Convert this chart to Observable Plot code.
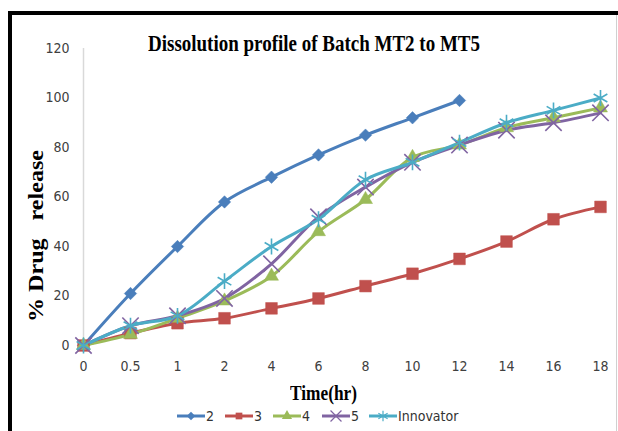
<!DOCTYPE html>
<html>
<head>
<meta charset="utf-8">
<script src="https://cdn.jsdelivr.net/npm/d3@7"></script>
<script src="https://cdn.jsdelivr.net/npm/@observablehq/plot@0.6"></script>
<style>
  html, body { margin: 0; padding: 0; background: #fff; }
  #wrap { position: relative; width: 618px; height: 431px; overflow: hidden; background: #fff; }
  #frame { position: absolute; left: 8px; top: 11px; width: 640px; height: 460px; border-left: 4px solid #000; border-top: 4px solid #000; box-sizing: border-box; }
  #rline { position: absolute; left: 616px; top: 15px; width: 1px; height: 416px; background: #d0d0d0; }
  .fit { position: absolute; white-space: pre; transform-origin: 0 0; font-family: "Liberation Serif", "Times New Roman", serif; font-weight: bold; color: #000; line-height: 1; }
  #legend { position: absolute; top: 407px; left: 0; height: 18px; font-family: "DejaVu Sans Condensed", "Liberation Sans", sans-serif; font-size: 14px; color: #333; }
  #legend svg { position: absolute; top: 0; left: 0; overflow: visible; }
  #chart { position: absolute; left: 0; top: 0; }
</style>
</head>
<body>
<div id="wrap">
  <div id="chart"></div>
  <div id="frame"></div>
  <div id="rline"></div>
</div>
<script>
const times = ["0", "0.5", "1", "2", "4", "6", "8", "10", "12", "14", "16", "18"];
const seriesNames = ["2", "3", "4", "5", "Innovator"];
const s2 = [0, 21, 40, 58, 68, 77, 85, 92, 99];
const s3 = [0, 5, 9, 11, 15, 19, 24, 29, 35, 42, 51, 56];
const s4 = [0, 4.5, 11, 18, 28, 46, 59, 76, 81, 88, 92, 96];
const s5 = [0, 8, 12, 19, 33, 52, 64, 74, 81, 87, 90, 94];
const sInnovator = [0, 8, 12, 26, 40, 51, 67, 74, 82, 90, 95, 100];
const yTicks = [0, 20, 40, 60, 80, 100, 120];
const colors = ["#4A7EBB", "#C0504D", "#9BBB59", "#8064A2", "#4BACC6"];
const symbols = ["diamond2", "square", "triangle", "times", "asterisk"];

const allSeries = [s2, s3, s4, s5, sInnovator];
const data = [];
allSeries.forEach((vals, i) => vals.forEach((v, j) => data.push({series: seriesNames[i], time: times[j], value: v})));

const tickFont = "DejaVu Sans Condensed, Liberation Sans, sans-serif";
const sizes = [5.6, 6.6, 5.2, 7.5, 7.5];

const dotMarks = seriesNames.map((name, i) => {
  const rows = data.filter(d => d.series === name);
  return i < 3
    ? Plot.dot(rows, {x: "time", y: "value", symbol: "series", fill: "series", stroke: "series", strokeWidth: 0.5, r: sizes[i]})
    : Plot.dot(rows, {x: "time", y: "value", symbol: "series", stroke: "series", fill: "none", strokeWidth: 1.6, r: sizes[i]});
});

const plot = Plot.plot({
  width: 618,
  height: 431,
  marginLeft: 80,
  marginRight: 15,
  marginTop: 48,
  marginBottom: 86,
  style: {background: "transparent", fontFamily: tickFont, fontSize: "14px", color: "#404040"},
  x: {type: "point", domain: times, padding: 0, label: null},
  y: {domain: [0, 120], label: null},
  color: {domain: seriesNames, range: colors},
  symbol: {domain: seriesNames, range: symbols},
  marks: [
    Plot.ruleX([times[0]], {y1: 0, y2: 120, stroke: "#d9d9d9", strokeWidth: 1.5}),
    Plot.ruleY([0], {x1: times[0], x2: times[times.length - 1], stroke: "#c8c8c8", strokeWidth: 2}),
    Plot.axisY({ticks: yTicks, tickSize: 0, tickPadding: 11, fontSize: 14, fill: "#404040"}),
    Plot.axisX({tickSize: 0, tickPadding: 16, fontSize: 14, fill: "#404040"}),
    Plot.line(data, {x: "time", y: "value", z: "series", stroke: "series", strokeWidth: 3, curve: "catmull-rom"}),
    ...dotMarks
  ]
});
document.getElementById("chart").appendChild(plot);

const wrap = document.getElementById("wrap");
function fitText(text, size, x0, x1, yTop, rotate) {
  const el = document.createElement("div");
  el.className = "fit";
  el.style.fontSize = size + "px";
  el.textContent = text;
  wrap.appendChild(el);
  const w = el.getBoundingClientRect().width;
  const target = Math.abs(x1 - x0);
  const s = target / w;
  if (!rotate) {
    el.style.left = x0 + "px";
    el.style.top = yTop + "px";
    el.style.transform = `scaleX(${s})`;
  } else {
    el.style.left = yTop + "px";
    el.style.top = x1 + "px";
    el.style.transform = `rotate(-90deg) scaleX(${s}) scaleY(0.85)`;
  }
}
fitText("Dissolution profile of Batch MT2 to MT5", 24, 148, 480, 31);
fitText("Time(hr)", 21, 290, 357, 383);
fitText("% Drug   release", 24, 150, 322, 26, true);

// legend
const leg = document.createElement("div");
leg.id = "legend";
wrap.appendChild(leg);
const items = [
  {name: "2", x: 177}, {name: "3", x: 225}, {name: "4", x: 273}, {name: "5", x: 322}, {name: "Innovator", x: 369}
];
const ns = "http://www.w3.org/2000/svg";
const lsvg = document.createElementNS(ns, "svg");
lsvg.setAttribute("width", 618);
lsvg.setAttribute("height", 25);
leg.appendChild(lsvg);
items.forEach((it, i) => {
  const c = colors[i];
  const line = document.createElementNS(ns, "line");
  line.setAttribute("x1", it.x); line.setAttribute("x2", it.x + 28);
  line.setAttribute("y1", 9); line.setAttribute("y2", 9);
  line.setAttribute("stroke", c); line.setAttribute("stroke-width", 3);
  lsvg.appendChild(line);
  const sym = d3.symbol().type([d3.symbolDiamond2, d3.symbolSquare, d3.symbolTriangle, d3.symbolTimes, d3.symbolAsterisk][i]).size(i < 3 ? 45 : 80);
  const p = document.createElementNS(ns, "path");
  p.setAttribute("d", sym());
  p.setAttribute("transform", `translate(${it.x + 14},9)`);
  if (i < 3) { p.setAttribute("fill", c); } else { p.setAttribute("fill", "none"); p.setAttribute("stroke", c); p.setAttribute("stroke-width", 1.2); }
  lsvg.appendChild(p);
  const t = document.createElementNS(ns, "text");
  t.setAttribute("x", it.x + 29); t.setAttribute("y", 14);
  t.setAttribute("font-size", 14);
  t.setAttribute("fill", "#333");
  t.textContent = it.name;
  lsvg.appendChild(t);
});
</script>
</body>
</html>
